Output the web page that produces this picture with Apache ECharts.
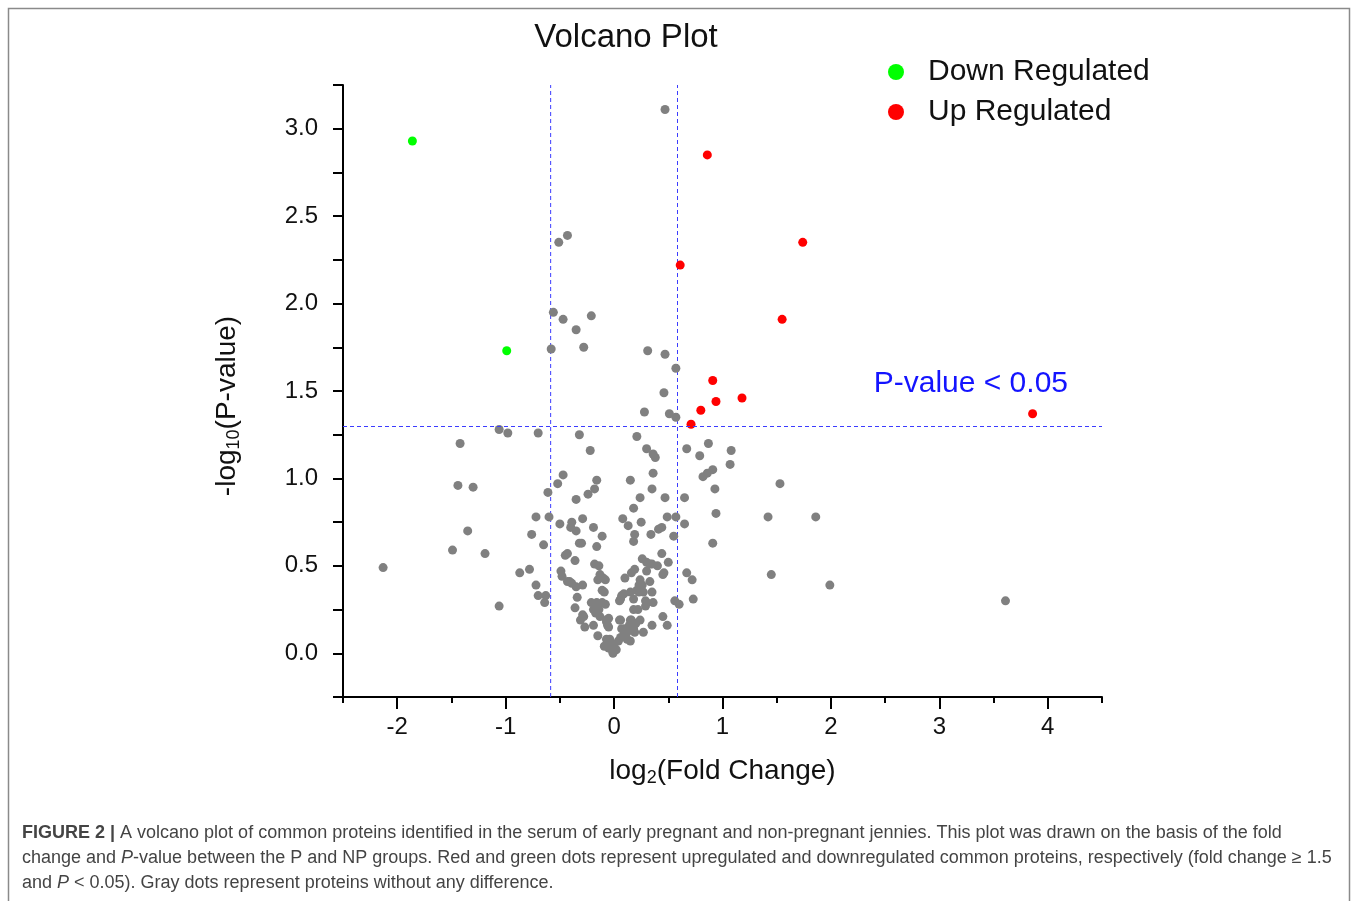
<!DOCTYPE html>
<html>
<head>
<meta charset="utf-8">
<script src="https://cdn.jsdelivr.net/npm/echarts@6/dist/echarts.min.js"></script>
<style>html,body{margin:0;padding:0;background:#fff}#chart{width:1357px;height:901px}</style>
</head>
<body>
<div id="chart"></div>
<script>
// ---- data (log2 fold change, -log10 p-value) ----
const downRegulated = [[-1.86, 2.93], [-0.99, 1.73]];
const upRegulated = [
  [0.86, 2.85], [0.61, 2.22], [1.74, 2.35], [1.55, 1.91], [0.91, 1.56],
  [0.94, 1.44], [1.18, 1.46], [0.80, 1.39], [0.71, 1.31], [3.86, 1.37]
];
const unchanged = [
  [0.47, 3.11], [-0.51, 2.35], [-0.43, 2.39], [-0.56, 1.95], [-0.47, 1.91],
  [-0.35, 1.85], [-0.21, 1.93], [-0.58, 1.74], [-0.28, 1.75], [0.31, 1.73],
  [0.47, 1.71], [0.57, 1.63], [0.46, 1.49], [0.28, 1.38], [0.51, 1.37],
  [0.57, 1.35], [-1.06, 1.28], [-0.98, 1.26], [-0.70, 1.26], [-0.32, 1.25],
  [-1.42, 1.20], [0.21, 1.24], [-0.22, 1.16], [0.30, 1.17], [0.36, 1.14],
  [0.38, 1.12], [0.67, 1.17], [0.87, 1.20], [0.79, 1.13], [1.08, 1.16],
  [1.07, 1.08], [0.82, 1.01], [0.86, 1.03], [0.91, 1.05], [0.93, 0.94],
  [0.94, 0.80], [0.91, 0.63], [1.53, 0.97], [1.42, 0.78], [1.45, 0.45],
  [1.86, 0.78], [1.99, 0.39], [3.61, 0.30],
  [0.36, 1.03], [0.15, 0.99], [-1.44, 0.96], [-1.30, 0.95], [-0.47, 1.02],
  [-0.52, 0.97], [-0.61, 0.92], [-0.16, 0.99], [-0.18, 0.94], [-0.24, 0.91],
  [-0.35, 0.88], [0.24, 0.89], [0.35, 0.94], [0.47, 0.89], [0.65, 0.89],
  [0.18, 0.83], [0.49, 0.78], [0.57, 0.78], [0.65, 0.74], [0.08, 0.77],
  [0.13, 0.73], [0.25, 0.75], [0.34, 0.68], [0.41, 0.71], [0.44, 0.72],
  [0.55, 0.67], [0.19, 0.68], [0.18, 0.64], [-0.72, 0.78], [-0.60, 0.78],
  [-0.50, 0.74], [-0.39, 0.75], [-0.40, 0.72], [-0.35, 0.70], [-0.29, 0.77],
  [-0.19, 0.72], [-0.11, 0.67], [-0.76, 0.68], [-0.65, 0.62], [-0.32, 0.63],
  [-0.30, 0.63], [-0.16, 0.61], [-1.35, 0.70], [-1.49, 0.59], [-1.19, 0.57],
  [-2.13, 0.49], [-0.87, 0.46], [-0.78, 0.48], [-1.06, 0.27], [-0.72, 0.39],
  [-0.70, 0.33], [-0.63, 0.33], [-0.64, 0.29], [-0.45, 0.56], [-0.43, 0.57],
  [-0.36, 0.53], [-0.49, 0.47], [-0.48, 0.44], [-0.43, 0.41], [-0.39, 0.40],
  [-0.35, 0.38], [-0.29, 0.39], [-0.34, 0.32], [-0.36, 0.26], [-0.29, 0.22],
  [-0.31, 0.19], [-0.27, 0.15], [-0.19, 0.16], [-0.15, 0.10], [-0.18, 0.51],
  [-0.14, 0.50], [-0.15, 0.42], [-0.10, 0.43], [-0.08, 0.42], [-0.11, 0.36],
  [-0.09, 0.35], [-0.21, 0.29], [-0.16, 0.29], [-0.11, 0.29], [-0.08, 0.28],
  [-0.19, 0.25], [-0.14, 0.25], [-0.17, 0.23], [-0.13, 0.21], [-0.05, 0.20],
  [-0.07, 0.18], [-0.06, 0.16], [-0.07, 0.08], [-0.04, 0.08], [-0.09, 0.04],
  [-0.05, 0.03], [-0.01, 0.00], [0.02, 0.02], [0.00, 0.05], [0.04, 0.07],
  [0.06, 0.09], [0.05, 0.19], [0.10, 0.14], [0.12, 0.12], [0.09, 0.10],
  [0.15, 0.07], [0.14, 0.16], [0.16, 0.19], [0.18, 0.14], [0.20, 0.17],
  [0.24, 0.19], [0.22, 0.25], [0.27, 0.12], [0.35, 0.16], [0.45, 0.21],
  [0.49, 0.16], [0.05, 0.30], [0.07, 0.33], [0.10, 0.43], [0.15, 0.35],
  [0.18, 0.31], [0.16, 0.46], [0.19, 0.48], [0.23, 0.39], [0.24, 0.42],
  [0.21, 0.36], [0.27, 0.35], [0.29, 0.30], [0.33, 0.41], [0.35, 0.35],
  [0.36, 0.29], [0.30, 0.29], [0.26, 0.54], [0.30, 0.52], [0.30, 0.47],
  [0.35, 0.51], [0.40, 0.50], [0.45, 0.45], [0.50, 0.52], [0.44, 0.57],
  [0.67, 0.46], [0.72, 0.42], [0.73, 0.31], [0.56, 0.30], [0.60, 0.28],
  [-0.41, 0.41], [-0.13, 0.45], [-0.28, 0.21], [-0.07, 0.19], [-0.05, 0.15],
  [-0.05, 0.07], [-0.02, 0.02], [0.06, 0.19], [0.07, 0.14], [0.12, 0.08],
  [0.15, 0.19], [0.18, 0.25], [0.33, 0.51], [0.46, 0.46], [0.26, 0.39],
  [0.23, 0.35], [0.09, 0.34], [0.06, 0.31], [0.29, 0.27], [0.19, 0.12]
];
const foldCutoffs = [-0.585, 0.585];
const pCutoff = 1.301;
const xTickValues = [-2, -1, 0, 1, 2, 3, 4];
const yRange = [-0.25, 3.25];

const FONT = '"Liberation Sans", Arial, sans-serif';
const lineBlue = '#3c3cff';

const chart = echarts.init(document.getElementById('chart'), null, {renderer: 'canvas'});

const dashed = () => ({type: [4, 3], color: lineBlue, width: 1, opacity: 1});

const cutoffLine = (x) => ({
  name: 'cutoff ' + x, type: 'line', xAxisIndex: 0, silent: true,
  data: [[x, yRange[0]], [x, yRange[1]]],
  symbol: 'none', lineStyle: dashed(), itemStyle: {color: lineBlue},
  z: 1
});

const option = {
  backgroundColor: '#fff',
  animation: false,
  textStyle: {fontFamily: FONT},
  title: {
    text: 'Volcano Plot',
    left: 621, top: 16, textAlign: 'center',
    textStyle: {fontFamily: FONT, fontSize: 33, fontWeight: 'normal', color: '#111'}
  },
  legend: {
    data: ['Down Regulated', 'Up Regulated'],
    orient: 'vertical',
    left: 888, top: 56, padding: 0,
    icon: 'circle',
    itemWidth: 16, itemHeight: 16,
    itemGap: 8,
    textStyle: {fontFamily: FONT, fontSize: 30, color: '#111', lineHeight: 32, padding: [0, 0, 0, 19]}
  },
  grid: {left: 343, right: 255, top: 85, bottom: 204, containLabel: false},
  xAxis: [
    {
      type: 'value', min: -2.5, max: 4.5, interval: 0.5,
      axisLine: {onZero: false, lineStyle: {color: '#000', width: 2}},
      axisTick: {length: 6, lineStyle: {color: '#000', width: 2}},
      axisLabel: {show: false},
      splitLine: {show: false},
      name: 'log{sub|2}(Fold Change)',
      nameLocation: 'middle', nameGap: 58,
      nameTextStyle: {
        fontFamily: FONT, fontSize: 28, color: '#111',
        rich: {sub: {fontFamily: FONT, fontSize: 18, color: '#111', padding: [14, 0, 0, 0]}}
      }
    },
    {
      type: 'value', min: -2.5, max: 4.5, position: 'bottom',
      axisLine: {show: false, onZero: false},
      axisTick: {show: true, customValues: xTickValues, length: 12, lineStyle: {color: '#000', width: 2}},
      axisLabel: {show: true, customValues: xTickValues, margin: 18, fontFamily: FONT, fontSize: 24, color: '#111'},
      splitLine: {show: false}
    }
  ],
  yAxis: {
    type: 'value', min: yRange[0], max: yRange[1], interval: 0.25,
    axisLine: {show: true, onZero: false, lineStyle: {color: '#000', width: 2}},
    axisTick: {show: true, length: 10, lineStyle: {color: '#000', width: 2}},
    axisLabel: {
      margin: 25, fontFamily: FONT, fontSize: 24, color: '#111',
      formatter: v => (Math.abs(v * 2 - Math.round(v * 2)) < 1e-6 ? v.toFixed(1) : '')
    },
    splitLine: {show: false},
    name: '-log{sub|10}(P-value)',
    nameLocation: 'middle', nameRotate: 90, nameGap: 100,
    nameTextStyle: {
      fontFamily: FONT, fontSize: 28, color: '#111', padding: [0, 30, 0, 0],
      rich: {sub: {fontFamily: FONT, fontSize: 18, color: '#111', padding: [14, 0, 0, 0]}}
    }
  },
  series: [
    cutoffLine(foldCutoffs[0]),
    cutoffLine(foldCutoffs[1]),
    {
      name: 'Unchanged', type: 'scatter', xAxisIndex: 0,
      data: unchanged, symbolSize: 9, z: 3,
      itemStyle: {color: '#808080', opacity: 1},
      markLine: {
        silent: true, symbol: ['none', 'none'],
        lineStyle: dashed(),
        data: [
          {
            yAxis: pCutoff, lineStyle: dashed(),
            label: {
              show: true, position: 'insideEndTop', formatter: 'P-value < 0.05',
              fontFamily: FONT, fontSize: 30, color: '#1414ff', distance: [34, 27]
            }
          }
        ]
      }
    },
    {
      name: 'Up Regulated', type: 'scatter', xAxisIndex: 0,
      data: upRegulated, symbolSize: 9, z: 4,
      itemStyle: {color: '#ff0000', opacity: 1}
    },
    {
      name: 'Down Regulated', type: 'scatter', xAxisIndex: 0,
      data: downRegulated, symbolSize: 9, z: 4,
      itemStyle: {color: '#00ff00', opacity: 1}
    }
  ],
  graphic: [
    {
      type: 'rect', silent: true,
      shape: {x: 8.5, y: 8.5, width: 1341, height: 1000},
      style: {fill: 'none', stroke: '#8a8a8a', lineWidth: 1.5}
    },
    {
      type: 'text', left: 22, top: 824, silent: true,
      style: {
        text: '{b|FIGURE 2 |} A volcano plot of common proteins identified in the serum of early pregnant and non-pregnant jennies. This plot was drawn on the basis of the fold',
        font: '18px ' + FONT, fill: '#444',
        rich: {b: {fontWeight: 'bold', fontSize: 18, fontFamily: FONT, fill: '#444'}}
      }
    },
    {
      type: 'text', left: 22, top: 849, silent: true,
      style: {
        text: 'change and {i|P}-value between the P and NP groups. Red and green dots represent upregulated and downregulated common proteins, respectively (fold change ≥ 1.5',
        font: '18px ' + FONT, fill: '#444',
        rich: {i: {fontStyle: 'italic', fontSize: 18, fontFamily: FONT, fill: '#444'}}
      }
    },
    {
      type: 'text', left: 22, top: 874, silent: true,
      style: {
        text: 'and {i|P} < 0.05). Gray dots represent proteins without any difference.',
        font: '18px ' + FONT, fill: '#444',
        rich: {i: {fontStyle: 'italic', fontSize: 18, fontFamily: FONT, fill: '#444'}}
      }
    }
  ]
};
chart.setOption(option);
</script>
</body>
</html>
